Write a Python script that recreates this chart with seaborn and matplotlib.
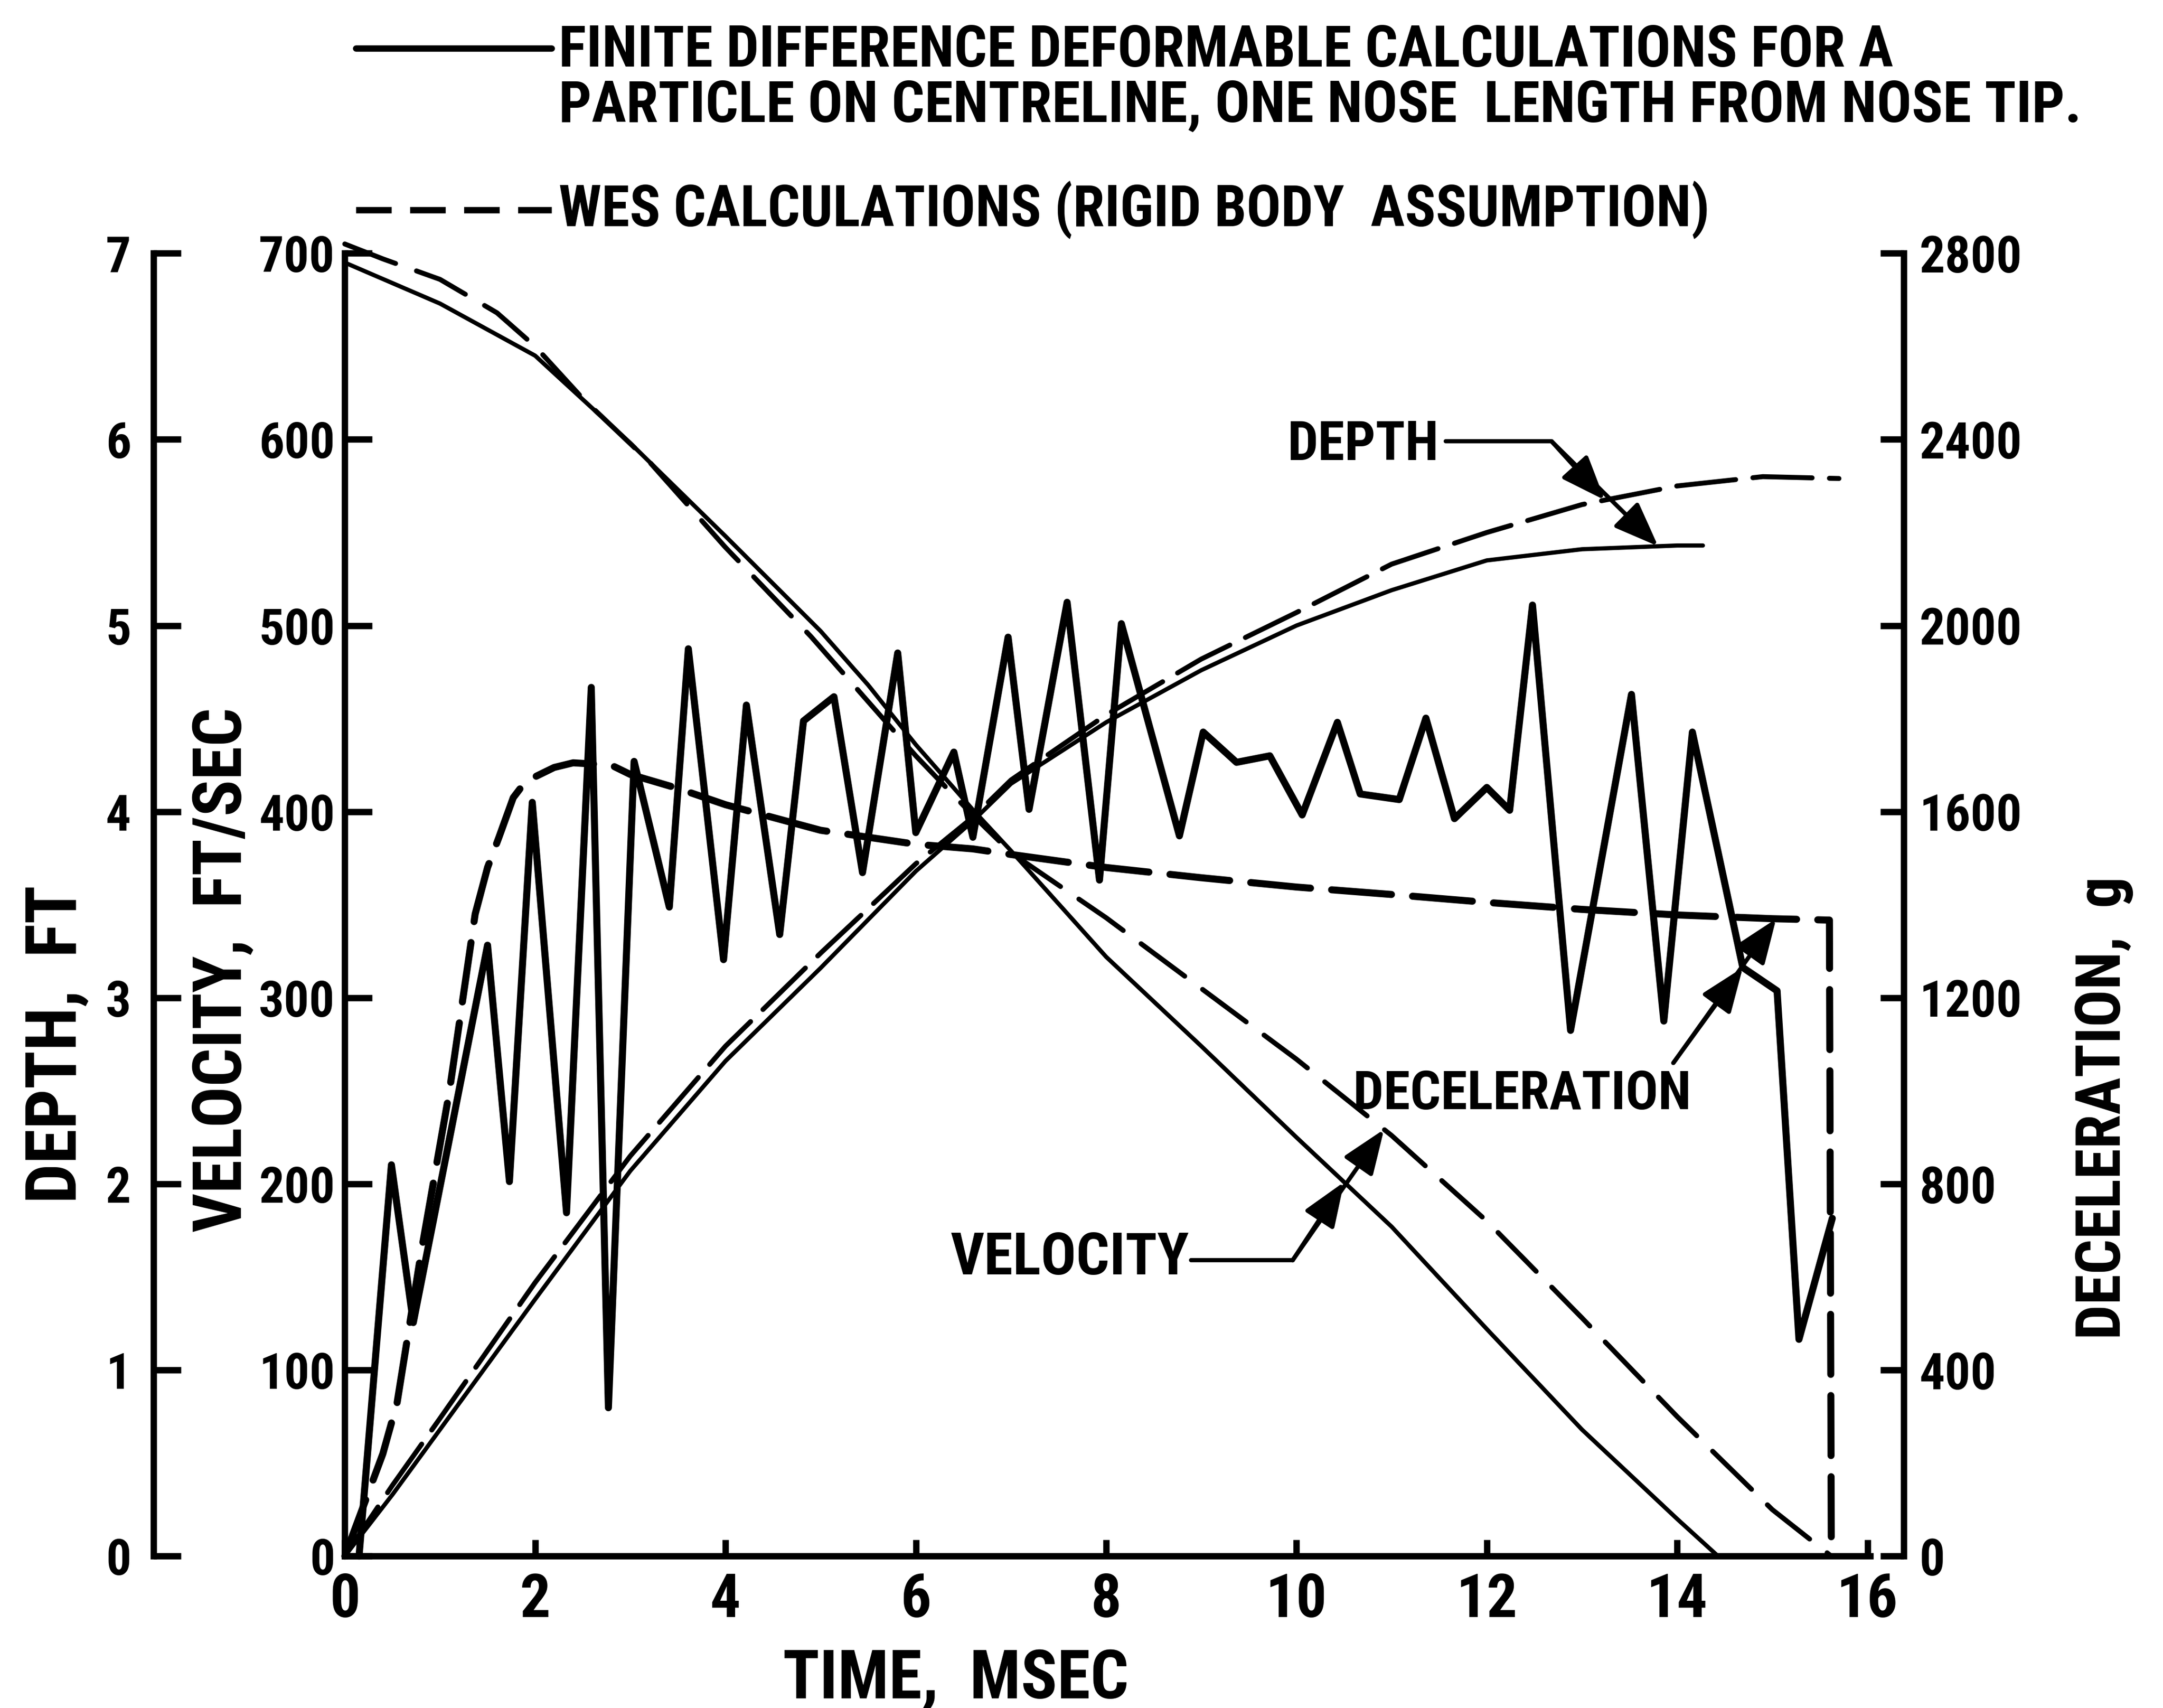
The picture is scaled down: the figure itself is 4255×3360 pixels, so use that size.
import os
import numpy as np
import matplotlib
matplotlib.use("Agg")
import matplotlib.pyplot as plt
import seaborn as sns
from matplotlib.lines import Line2D
from matplotlib import font_manager as fm
from matplotlib.font_manager import FontProperties

# ---------------- data ----------------
# Velocity, finite difference (solid)
t_vel_fd = [0, 1, 2, 3, 4, 5, 5.5, 6, 6.6, 7, 8, 9, 10, 11, 12, 13, 14, 14.43]
v_fd = [695, 673, 645, 598, 548, 497, 468, 436, 401, 379, 322, 274, 225, 177, 122, 68, 20, 0]

# Velocity, WES rigid body (dashed)
t_vel_wes = [0, 0.4, 1, 1.6, 2, 2.5, 3.2, 4, 4.9, 6, 6.6, 7, 8, 9, 10, 11, 12, 13, 14, 15, 15.62]
v_wes = [705, 697, 686, 668, 650, 622, 588, 542, 494, 430, 398, 378, 343, 305, 267, 226, 180, 128, 75, 25, 0]

# Depth, finite difference (solid)
t_dep_fd = [0, 0.5, 1, 2, 3, 4, 5, 6, 6.6, 7, 8, 9, 10, 11, 12, 13, 14, 14.27]
d_fd = [0, 0.33, 0.68, 1.38, 2.07, 2.66, 3.16, 3.68, 3.95, 4.15, 4.48, 4.76, 5.0, 5.19, 5.35, 5.41, 5.43, 5.43]

# Depth, WES (dashed)
t_dep_wes = [0, 0.5, 1, 2, 3, 4, 5, 6, 6.6, 7, 8, 9, 10, 11, 12, 13, 14, 14.9, 15.7]
d_wes = [0, 0.38, 0.74, 1.47, 2.15, 2.74, 3.24, 3.72, 3.97, 4.17, 4.52, 4.82, 5.07, 5.33, 5.5, 5.65, 5.75, 5.8, 5.79]

# Deceleration, finite difference (solid zig-zag)
t_dec_fd = [0.15, 0.49, 0.72, 1.50, 1.73, 1.97, 2.33, 2.59, 2.77, 3.04, 3.41, 3.61, 3.98, 4.22,
            4.57, 4.82, 5.14, 5.44, 5.81, 6.0, 6.4, 6.6, 6.97, 7.19, 7.59, 7.93, 8.16, 8.77,
            9.02, 9.37, 9.72, 10.06, 10.43, 10.67, 11.08, 11.36, 11.66, 12.0, 12.24, 12.48,
            12.88, 13.52, 13.86, 14.16, 14.69, 15.05, 15.28, 15.63]
g_fd = [0, 841, 502, 1313, 805, 1620, 738, 1867, 319, 1708, 1395, 1950, 1282, 1829,
        1336, 1795, 1847, 1469, 1941, 1555, 1728, 1545, 1975, 1605, 2050, 1453, 2004, 1548,
        1771, 1706, 1720, 1593, 1792, 1638, 1626, 1801, 1585, 1652, 1603, 2044,
        1130, 1852, 1150, 1771, 1265, 1215, 466, 726]

# Deceleration, WES (dashed)
t_dec_wes = [0, 0.4, 0.55, 0.8, 1.1, 1.37, 1.5, 1.62, 1.77, 1.9, 2.2, 2.4, 2.8, 3.0, 3.5, 4, 5,
             6, 6.6, 7, 8, 9, 10, 11, 12, 13, 14, 15, 15.6, 15.62]
g_wes = [0, 220, 330, 650, 1000, 1380, 1480, 1545, 1630, 1665, 1695, 1705, 1700, 1680, 1650, 1615, 1560,
         1530, 1520, 1508, 1480, 1458, 1438, 1422, 1405, 1390, 1378, 1370, 1367, 0]

x_ticks = [0, 2, 4, 6, 8, 10, 12, 14, 16]
vel_ticks = [0, 100, 200, 300, 400, 500, 600, 700]
dep_ticks = [0, 1, 2, 3, 4, 5, 6, 7]
dec_ticks = [0, 400, 800, 1200, 1600, 2000, 2400, 2800]

legend_fd = "FINITE DIFFERENCE DEFORMABLE CALCULATIONS FOR A"
legend_fd2 = "PARTICLE ON CENTRELINE, ONE NOSE  LENGTH FROM NOSE TIP."
legend_wes = "WES CALCULATIONS (RIGID BODY  ASSUMPTION)"

# ---------------- style / font ----------------
sns.set_theme(style="ticks")


def pick_font():
    entries = fm.fontManager.ttflist
    prefs = ["RobotoCondensed-Bold.", "LiberationSansNarrow-Bold.", "DejaVuSansCondensed-Bold."]
    for p in prefs:
        for e in entries:
            if os.path.basename(e.fname).startswith(p):
                return e
    return None


ent = pick_font()
if ent is not None:
    FP = FontProperties(fname=ent.fname)
    plt.rcParams["font.family"] = [ent.name, "DejaVu Sans"]
    plt.rcParams["font.weight"] = ent.weight
    plt.rcParams["font.stretch"] = ent.stretch
else:
    FP = FontProperties(family="DejaVu Sans", weight="bold")
    plt.rcParams["font.family"] = ["DejaVu Sans"]
    plt.rcParams["font.weight"] = "bold"
plt.rcParams["axes.edgecolor"] = "black"
plt.rcParams["text.color"] = "black"
plt.rcParams["xtick.color"] = "black"
plt.rcParams["ytick.color"] = "black"

K = "black"
SPW = 9

fig = plt.figure(figsize=(42.55, 33.6), dpi=100)
ax = fig.add_axes([0.1594, 0.0889, 0.7207, 0.7628])
ax_dep = ax.twinx()
ax_dec = ax.twinx()
renderer = fig.canvas.get_renderer()


def draw(axis, x, y, lw, dashes=None):
    sns.lineplot(x=np.asarray(x, float), y=np.asarray(y, float), ax=axis, color=K,
                 linewidth=lw, estimator=None, sort=False, legend=False)
    line = axis.get_lines()[-1]
    line.set_clip_on(False)
    line.set_solid_capstyle("round")
    line.set_solid_joinstyle("round")
    if dashes is not None:
        line.set_dashes(dashes)
        line.set_dash_capstyle("round")
    return line


draw(ax, t_vel_fd, v_fd, 6)
draw(ax, t_vel_wes, v_wes, 7, (11, 4.5))
draw(ax_dep, t_dep_fd, d_fd, 6)
draw(ax_dep, t_dep_wes, d_wes, 7, (12, 3.5))
draw(ax_dec, t_dec_fd, g_fd, 10)
draw(ax_dec, t_dec_wes, g_wes, 10, (8.5, 3))


def ftext(target, x, y, s, **kw):
    t = target.text(x, y, s, **kw)
    t.set_fontproperties(FP.copy())
    return t


def fit(txt, target_px, max_size):
    """largest size not above max_size whose long side is no more than target_px"""
    txt.set_fontsize(max_size)
    bb = txt.get_window_extent(renderer)
    w = max(bb.width, bb.height)
    if w > target_px:
        txt.set_fontsize(max_size * target_px / w)
    return txt


# ---------------- axes ----------------
XMAX = 16.38
for a in (ax, ax_dep, ax_dec):
    a.set_xlim(0, XMAX)
    a.set_xlabel("")
    a.set_ylabel("")
    a.patch.set_visible(False)

ax.set_ylim(0, 700)
ax_dep.set_ylim(0, 7)
ax_dec.set_ylim(0, 2800)

YS, DS, XS = 71, 72, 86

ax.spines["top"].set_visible(False)
ax.spines["right"].set_visible(False)
ax.spines["left"].set_linewidth(SPW)
ax.spines["bottom"].set_linewidth(SPW)
ax.spines["bottom"].set_bounds(0, 16.03)
ax.set_xticks(x_ticks)
ax.set_xticklabels([str(v) for v in x_ticks], fontproperties=FP.copy())
ax.set_yticks(vel_ticks)
ax.set_yticklabels([str(v) for v in vel_ticks], fontproperties=FP.copy())
ax.tick_params(axis="x", direction="in", length=23, width=SPW, labelsize=XS, pad=22)
ax.tick_params(axis="y", direction="in", length=39, width=SPW, labelsize=YS, pad=14)

for s in ("top", "right", "bottom"):
    ax_dep.spines[s].set_visible(False)
ax_dep.spines["left"].set_visible(True)
ax_dep.spines["left"].set_position(("axes", -0.1226))
ax_dep.spines["left"].set_linewidth(SPW)
ax_dep.yaxis.tick_left()
ax_dep.set_yticks(dep_ticks)
ax_dep.set_yticklabels([str(v) for v in dep_ticks], fontproperties=FP.copy())
ax_dep.tick_params(axis="y", direction="in", length=39, width=SPW, labelsize=YS, pad=32)
ax_dep.tick_params(axis="x", bottom=False, top=False, labelbottom=False)

for s in ("top", "left", "bottom"):
    ax_dec.spines[s].set_visible(False)
ax_dec.spines["right"].set_linewidth(SPW)
ax_dec.set_yticks(dec_ticks)
ax_dec.set_yticklabels([str(v) for v in dec_ticks], fontproperties=FP.copy())
ax_dec.tick_params(axis="y", direction="in", length=33, width=SPW, labelsize=DS, pad=22)
ax_dec.tick_params(axis="x", bottom=False, top=False, labelbottom=False)

# ---------------- axis titles ----------------
fit(ftext(fig, 0.0261, 0.3885, "DEPTH,  FT", rotation=90, ha="center", va="center"), 790, 100)
fit(ftext(fig, 0.1030, 0.4321, "VELOCITY,  FT/SEC", rotation=90, ha="center", va="center"), 1075, 96)
fit(ftext(fig, 0.9726, 0.3514, "DECELERATION,  g", rotation=90, ha="center", va="center"), 910, 100)
fit(ftext(fig, 0.442, 0.0165, "TIME,  MSEC", ha="center", va="center"), 680, 98)

# ---------------- legend (drawn at top) ----------------
fig.add_artist(Line2D([0.1645, 0.2551], [0.9717, 0.9717], transform=fig.transFigure, color=K, lw=9))
fig.add_artist(Line2D([0.1645, 0.2551], [0.8772, 0.8772], transform=fig.transFigure, color=K, lw=9,
                      dashes=(5.6, 2.9)))
fit(ftext(fig, 0.2583, 0.9701, legend_fd, ha="left", va="center"), 2781, 82)
fit(ftext(fig, 0.2583, 0.9378, legend_fd2, ha="left", va="center"), 3095, 82)
fit(ftext(fig, 0.2583, 0.8772, legend_wes, ha="left", va="center"), 2266, 82)

# ---------------- annotations with arrows (in velocity-axis units) ----------------
arrow_kw = dict(arrowstyle="-|>,head_length=0.9,head_width=0.35", color=K, lw=6,
                mutation_scale=60, shrinkA=0, shrinkB=0)


def arrow(tail, head):
    ax.annotate("", xy=head, xytext=tail, xycoords="data", textcoords="data",
                arrowprops=arrow_kw, annotation_clip=False)


# DEPTH
fit(ftext(ax, 10.70, 597, "DEPTH", ha="center", va="center"), 298, 78)
ax.plot([11.57, 12.68], [599, 599], color=K, lw=6, clip_on=False, solid_capstyle="round")
tail = (12.68, 599)
arrow(tail, (13.24, 100 * np.interp(13.24, t_dep_wes, d_wes)))
arrow(tail, (13.80, 100 * np.interp(13.80, t_dep_fd, d_fd)))

# VELOCITY
fit(ftext(ax, 7.62, 160, "VELOCITY", ha="center", va="center"), 470, 90)
ax.plot([8.89, 9.96], [159, 159], color=K, lw=6, clip_on=False, solid_capstyle="round")
tail = (9.96, 159)
arrow(tail, (10.50, np.interp(10.50, t_vel_fd, v_fd)))
arrow(tail, (10.92, np.interp(10.92, t_vel_wes, v_wes)))

# DECELERATION
fit(ftext(ax, 12.37, 248, "DECELERATION", ha="center", va="center"), 665, 90)
tail = (13.96, 265)
arrow(tail, (14.69, np.interp(14.69, t_dec_fd, g_fd) / 4.0))
arrow(tail, (15.04, np.interp(15.04, t_dec_wes, g_wes) / 4.0))

fig.savefig("out.png", dpi=100, facecolor="white")
